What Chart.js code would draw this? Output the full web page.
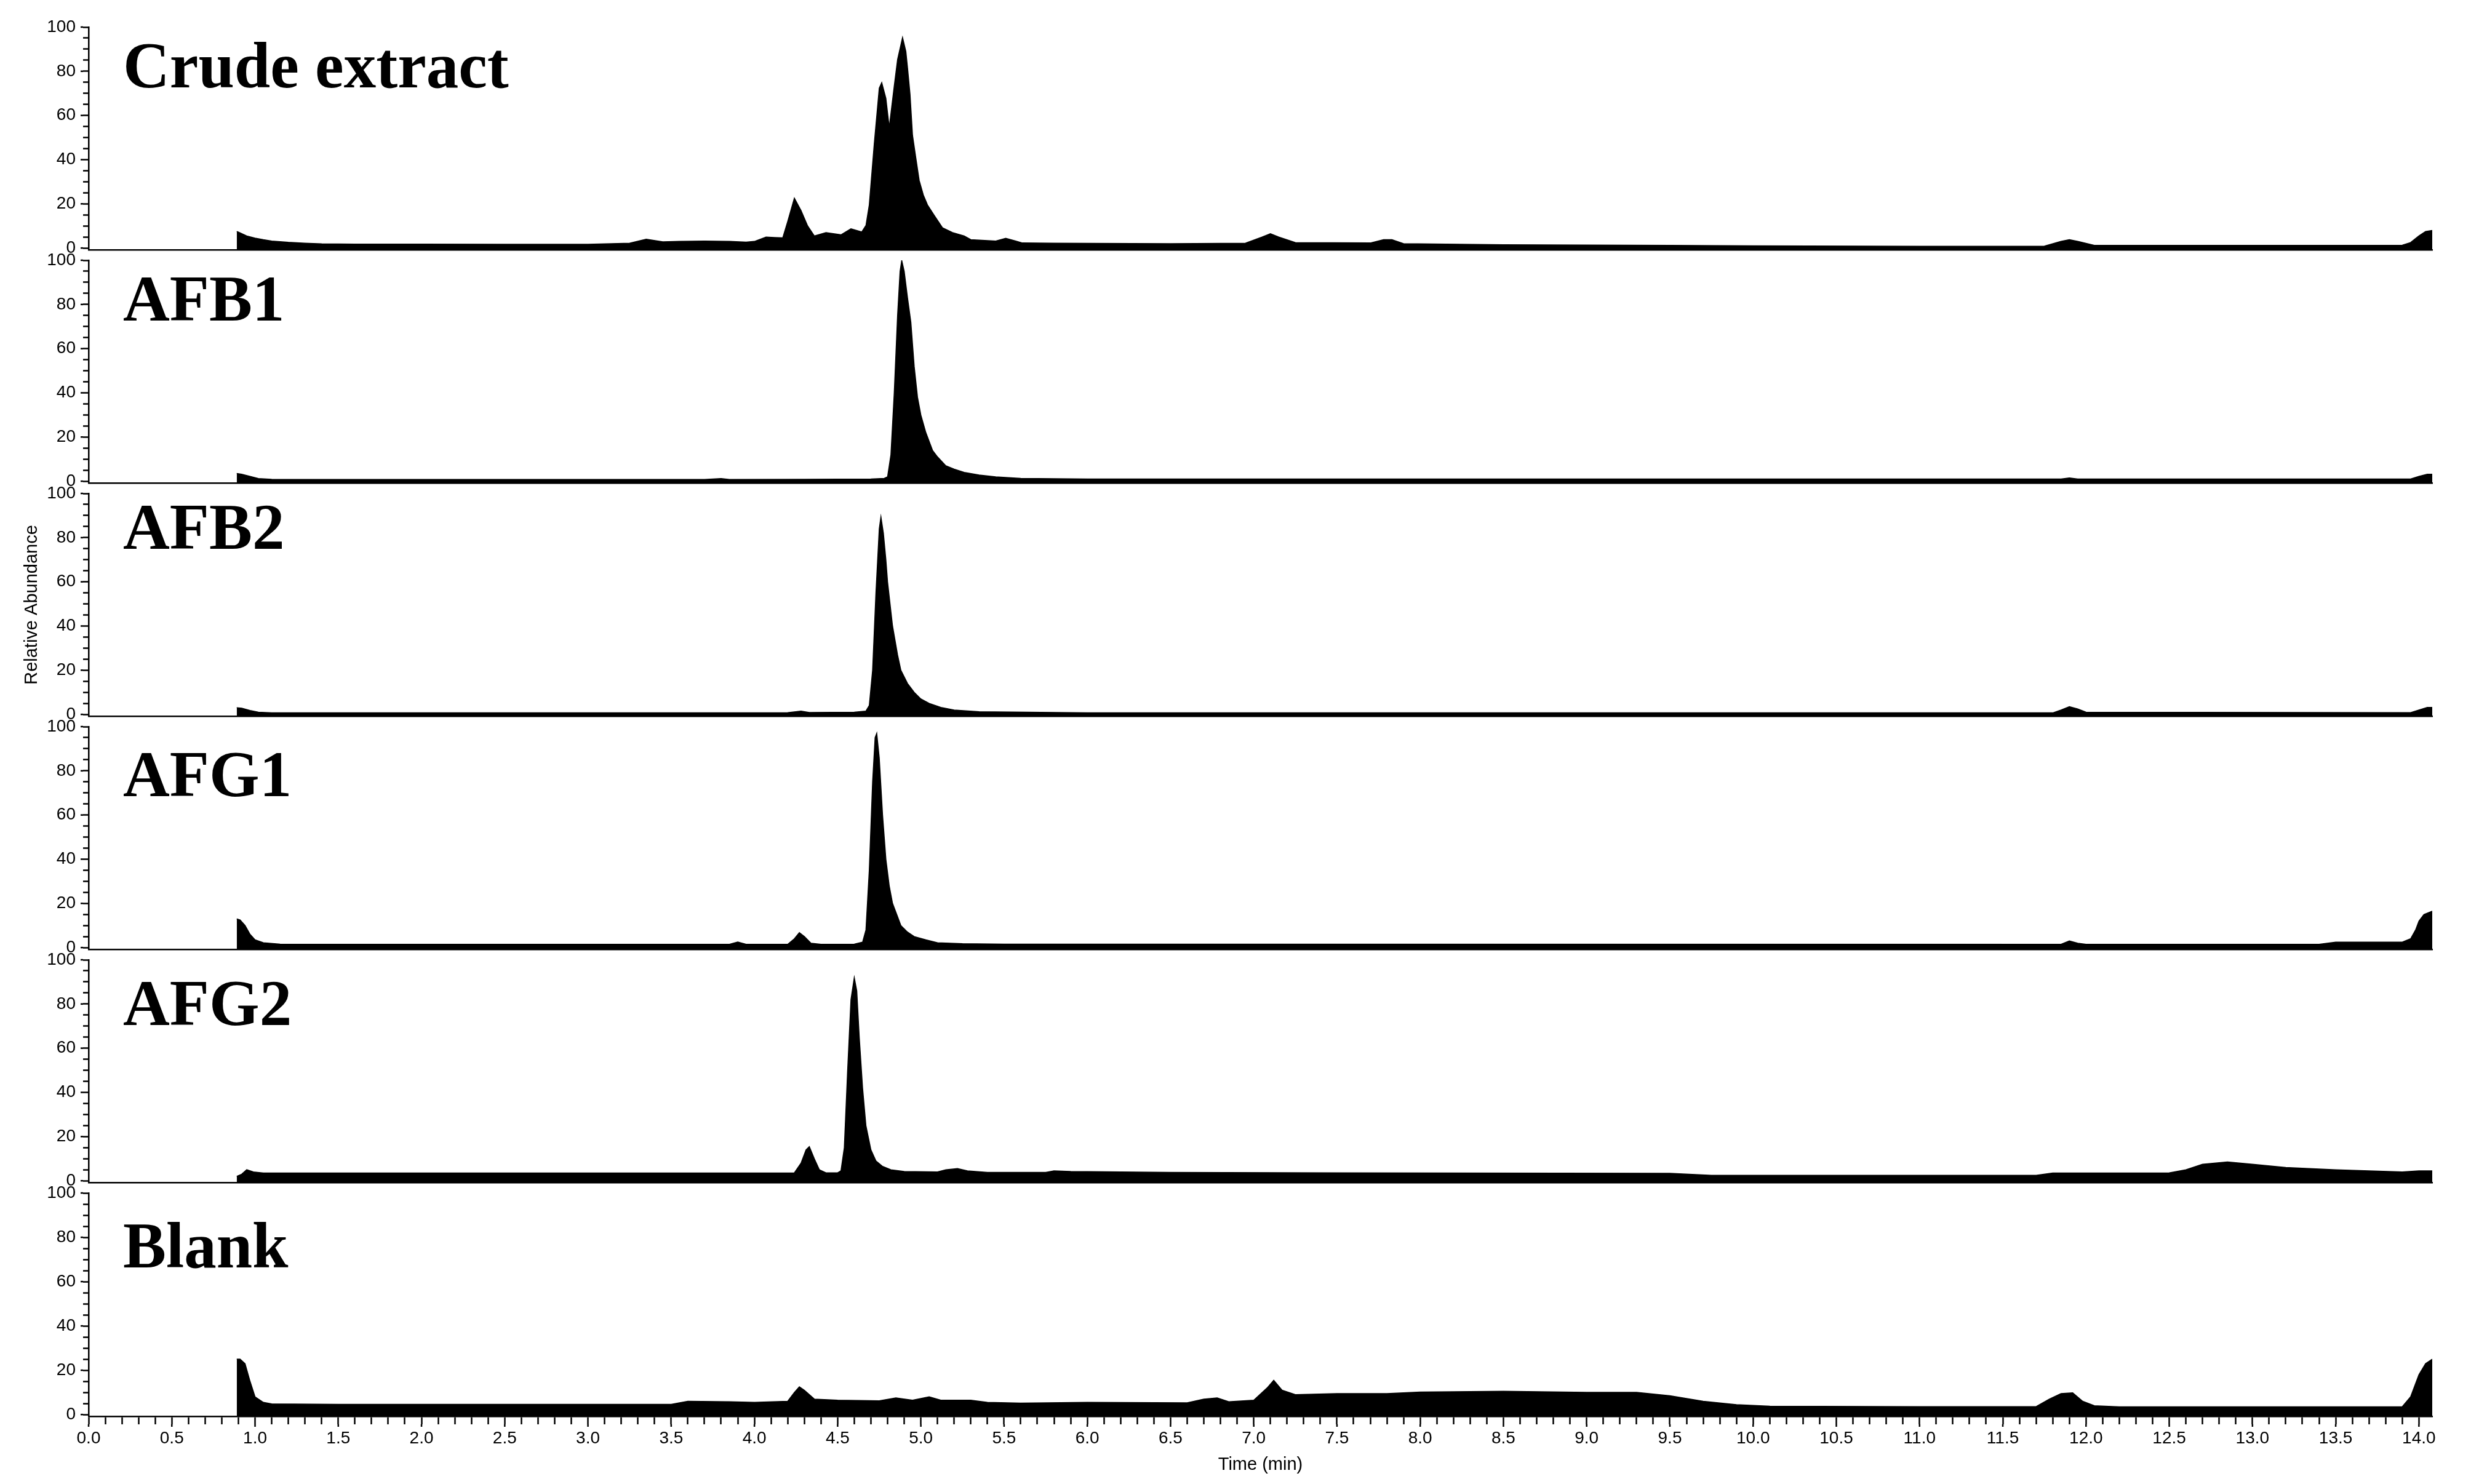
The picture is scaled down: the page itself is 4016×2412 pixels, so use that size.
<!DOCTYPE html>
<html>
<head>
<meta charset="utf-8">
<title>Chromatograms</title>
<script src="https://cdn.jsdelivr.net/npm/chart.js@4.4.1/dist/chart.umd.min.js"></script>
<style>
    body { margin: 0; background: #fff; }
    #wrap { position: relative; width: 4016px; height: 2412px; overflow: hidden; }
    #wrap canvas { position: absolute; left: 0; }
</style>
</head>
<body>
<div id="wrap"></div>
<script>
// panel names, top to bottom
const panelNames = ['Crude extract', 'AFB1', 'AFB2', 'AFG1', 'AFG2', 'Blank'];

// [time (min), relative abundance]
const crudeExtract = [
    [0.89, 7.5], [0.9, 7.2], [0.95, 5.5], [1.0, 4.5], [1.05, 3.8], [1.1, 3.2], [1.2, 2.6], [1.3, 2.2],
    [1.4, 1.9], [1.6, 1.8], [2.0, 1.8], [2.5, 1.7], [3.0, 1.7], [3.25, 2.2], [3.35, 4.0], [3.45, 2.8],
    [3.55, 3.0], [3.7, 3.2], [3.85, 3.0], [3.95, 2.7], [4.0, 3.0], [4.07, 5.0], [4.12, 4.8], [4.17, 4.6],
    [4.2, 12], [4.24, 22.6], [4.28, 17], [4.32, 10], [4.36, 5.5], [4.43, 7.0], [4.52, 6.0], [4.58, 8.7],
    [4.645, 7.3], [4.67, 10.2], [4.69, 19.5], [4.72, 47.3], [4.75, 72.4], [4.765, 74.9], [4.79, 67.7],
    [4.81, 54.6], [4.84, 73.3], [4.86, 85.3], [4.89, 95.3], [4.91, 89], [4.92, 81.6], [4.935, 69.6],
    [4.95, 51], [4.97, 40.7], [4.99, 30.6], [5.015, 24], [5.04, 19.5], [5.08, 14.8], [5.13, 9.2],
    [5.19, 7.0], [5.26, 5.5], [5.3, 3.8], [5.45, 3.2], [5.51, 4.4], [5.57, 3.2], [5.61, 2.3], [5.8, 2.2],
    [6.5, 2.0], [6.95, 2.2], [7.05, 5.0], [7.1, 6.5], [7.15, 5.0], [7.25, 2.5], [7.7, 2.3], [7.78, 3.8],
    [7.83, 3.8], [7.9, 2.0], [8.5, 1.5], [9.5, 1.2], [10.0, 1.0], [11.0, 0.8], [11.75, 0.9], [11.85, 3.0],
    [11.9, 3.8], [11.95, 3.0], [12.05, 1.2], [13.0, 1.2], [13.9, 1.3], [13.95, 2.5], [14.0, 5.5],
    [14.04, 7.5], [14.08, 8.0]
];
const afb1 = [
    [0.89, 3.5], [0.92, 3.2], [0.97, 2.2], [1.02, 1.2], [1.1, 0.9], [2.0, 0.8], [3.7, 0.8], [3.8, 1.2],
    [3.85, 0.8], [4.3, 0.9], [4.7, 1.0], [4.78, 1.3], [4.8, 2], [4.82, 12], [4.84, 40], [4.86, 75],
    [4.875, 95], [4.885, 100], [4.9, 95], [4.92, 83], [4.94, 72], [4.96, 52], [4.98, 38], [5.0, 30],
    [5.03, 22], [5.07, 14], [5.1, 11], [5.15, 7], [5.2, 5.5], [5.26, 4], [5.35, 2.8], [5.45, 2],
    [5.6, 1.3], [6.0, 1.0], [11.85, 1.0], [11.9, 1.5], [11.95, 1.0], [13.95, 1.0], [14.0, 2.2],
    [14.05, 3.2], [14.08, 3.2]
];
const afb2 = [
    [0.89, 3], [0.92, 2.8], [0.97, 1.8], [1.02, 1.0], [1.1, 0.7], [3.5, 0.7], [4.2, 0.8], [4.28, 1.5],
    [4.33, 0.9], [4.6, 1.0], [4.67, 1.5], [4.69, 4], [4.71, 20], [4.73, 55], [4.75, 84], [4.76, 89.5],
    [4.775, 82], [4.79, 70], [4.8, 60], [4.83, 40], [4.86, 27], [4.88, 20], [4.92, 14], [4.96, 10],
    [5.0, 7], [5.05, 5], [5.12, 3.2], [5.2, 2], [5.35, 1.2], [6.0, 0.7], [11.8, 0.7], [11.85, 2],
    [11.9, 3.5], [11.95, 2.5], [12.0, 1], [13.95, 0.8], [14.0, 2], [14.05, 3.2], [14.08, 3.2]
];
const afg1 = [
    [0.89, 13], [0.91, 12.5], [0.94, 10], [0.97, 6], [1.0, 3.5], [1.05, 2.2], [1.15, 1.6], [2.0, 1.5],
    [3.85, 1.5], [3.9, 2.5], [3.95, 1.5], [4.2, 1.5], [4.24, 4], [4.27, 6.8], [4.3, 5], [4.34, 2],
    [4.4, 1.5], [4.6, 1.6], [4.65, 2.5], [4.67, 8], [4.69, 35], [4.71, 75], [4.725, 95], [4.735, 97],
    [4.75, 86], [4.77, 60], [4.79, 40], [4.81, 28], [4.83, 20], [4.86, 14], [4.88, 10], [4.92, 7],
    [4.96, 5], [5.03, 3.5], [5.1, 2.2], [5.25, 1.8], [5.5, 1.6], [11.85, 1.5], [11.9, 3], [11.95, 2],
    [12.0, 1.5], [13.4, 1.5], [13.5, 2.5], [13.9, 2.5], [13.95, 4], [13.98, 8], [14.0, 12], [14.03, 15],
    [14.08, 16.5]
];
const afg2 = [
    [0.89, 2], [0.92, 3], [0.95, 5], [0.99, 4], [1.05, 3.5], [2.0, 3.5], [4.0, 3.5], [4.24, 3.6],
    [4.28, 8], [4.31, 14], [4.33, 15.5], [4.36, 10], [4.39, 5], [4.43, 3.6], [4.5, 3.6], [4.52, 4.5],
    [4.54, 15], [4.56, 50], [4.58, 82], [4.6, 92], [4.615, 86], [4.63, 65], [4.65, 42], [4.67, 25],
    [4.7, 14], [4.73, 9], [4.77, 6.5], [4.82, 5], [4.9, 4.2], [5.1, 4], [5.15, 5], [5.22, 5.5],
    [5.28, 4.5], [5.4, 3.8], [5.75, 3.8], [5.8, 4.5], [5.9, 4.2], [6.5, 3.8], [7.5, 3.6], [9.5, 3.4],
    [9.75, 2.5], [11.7, 2.5], [11.8, 3.5], [12.5, 3.6], [12.6, 5], [12.7, 7.5], [12.85, 8.5],
    [13.0, 7.5], [13.2, 6], [13.5, 5], [13.9, 4], [14.0, 4.5], [14.08, 4.5]
];
const blank = [
    [0.89, 25], [0.91, 25], [0.94, 23], [0.97, 15], [1.0, 8], [1.05, 5.5], [1.1, 4.8], [1.5, 4.6],
    [3.5, 4.6], [3.6, 6], [3.85, 5.8], [4.0, 5.5], [4.2, 6], [4.24, 10], [4.27, 12.5], [4.3, 11],
    [4.36, 7], [4.5, 6.5], [4.75, 6.2], [4.85, 7.5], [4.95, 6.5], [5.05, 8], [5.12, 6.5], [5.3, 6.5],
    [5.4, 5.5], [5.6, 5.2], [6.0, 5.5], [6.6, 5.3], [6.7, 7], [6.78, 7.5], [6.85, 5.8], [7.0, 6.5],
    [7.08, 12], [7.12, 15.5], [7.17, 11], [7.25, 9], [7.5, 9.5], [7.8, 9.5], [8.0, 10.2], [8.5, 10.5],
    [9.0, 10], [9.3, 10], [9.5, 8.5], [9.7, 6], [9.9, 4.5], [10.1, 3.8], [11.0, 3.6], [11.7, 3.6],
    [11.78, 7], [11.85, 9.5], [11.92, 9.8], [11.98, 6], [12.05, 4], [12.2, 3.5], [13.9, 3.6],
    [13.95, 8], [14.0, 18], [14.04, 23], [14.08, 25]
];
const traces = [crudeExtract, afb1, afb2, afg1, afg2, blank];

// axis settings
const timeMin = 0, timeMax = 14.08, timeStep = 0.1, timeLabelStep = 0.5;
const abundMin = -0.8, abundMax = 100, abundStep = 5, abundLabelStep = 20;

// layout (px)
const plotLeft = 144, plotRight = 3953, firstTop = 44, pitch = 379, plotH = 362, pad = 32;
const labelDy = [98, 98, 90, 113, 106, 121];

const tickFont = { family: '"Liberation Sans", Arial, sans-serif', size: 28 };
const titleFont = { family: '"Liberation Sans", Arial, sans-serif', size: 29 };

const isMultiple = (v, step) => Math.abs(v / step - Math.round(v / step)) < 1e-6;

// longer marks for the labelled ticks
const majorTicks = {
    id: 'majorTicks',
    afterDraw(chart, args, opts) {
        const ctx = chart.ctx;
        ctx.save();
        ctx.strokeStyle = '#000';
        ctx.lineWidth = 2.5;
        const y = chart.scales.y;
        y.ticks.forEach(t => {
            if (!isMultiple(t.value, abundLabelStep)) return;
            const py = y.getPixelForValue(t.value);
            ctx.beginPath();
            ctx.moveTo(y.right - 13, py);
            ctx.lineTo(y.right - 9, py);
            ctx.stroke();
        });
        if (opts.bottom) {
            const x = chart.scales.x;
            x.ticks.forEach(t => {
                if (!isMultiple(t.value, timeLabelStep)) return;
                const px = x.getPixelForValue(t.value);
                ctx.beginPath();
                ctx.moveTo(px, x.top + 13);
                ctx.lineTo(px, x.top + 17);
                ctx.stroke();
            });
        }
        ctx.restore();
    }
};

// big bold name inside each panel
const panelLabel = {
    id: 'panelLabel',
    afterDraw(chart, args, opts) {
        const ctx = chart.ctx;
        ctx.save();
        ctx.font = 'bold 105px "Liberation Serif", "Times New Roman", serif';
        ctx.fillStyle = '#000';
        ctx.textBaseline = 'alphabetic';
        ctx.fillText(opts.text, 200, chart.chartArea.top + opts.dy);
        ctx.restore();
    }
};

const wrap = document.getElementById('wrap');

function makePanel(i) {
    const last = i === traces.length - 1;
    const areaTop = firstTop + pitch * i;
    const areaH = last ? plotH + 1 : plotH;
    const xAxisH = last ? 2412 - (areaTop + areaH) : 0;
    const canvasTop = areaTop - pad;
    const canvasH = pad + areaH + (last ? xAxisH : pad);

    const canvas = document.createElement('canvas');
    canvas.width = 4016;
    canvas.height = canvasH;
    canvas.style.top = canvasTop + 'px';
    wrap.appendChild(canvas);

    const xScale = {
        type: 'linear',
        min: timeMin,
        max: timeMax,
        afterFit: s => { s.height = xAxisH; },
        border: { display: true, color: '#000', width: 2.5 },
        grid: { display: last, drawOnChartArea: false, drawTicks: last, tickLength: 13, tickWidth: 2.5, tickColor: '#000' },
        ticks: {
            display: last,
            stepSize: timeStep,
            includeBounds: false,
            autoSkip: false,
            maxRotation: 0,
            minRotation: 0,
            padding: 6,
            color: '#000',
            font: tickFont,
            callback: v => isMultiple(v, timeLabelStep) ? v.toFixed(1) : ''
        },
        title: {
            display: last,
            text: 'Time (min)',
            color: '#000',
            font: titleFont,
            padding: { top: 0, bottom: 14 }
        }
    };

    const yScale = {
        min: abundMin,
        max: abundMax,
        afterFit: s => { s.width = plotLeft - 20; },
        border: { display: true, color: '#000', width: 2.5 },
        grid: { drawOnChartArea: false, drawTicks: true, tickLength: 9, tickWidth: 2.5, tickColor: '#000' },
        ticks: {
            stepSize: abundStep,
            includeBounds: false,
            autoSkip: false,
            padding: 12,
            color: '#000',
            font: tickFont,
            callback: v => isMultiple(v, abundLabelStep) ? String(v) : ''
        },
        title: {
            display: i === 2,
            text: 'Relative Abundance',
            color: '#000',
            font: titleFont,
            padding: { top: 15, bottom: 0 }
        }
    };

    return new Chart(canvas, {
        type: 'line',
        data: {
            datasets: [{
                data: traces[i].map(p => ({ x: p[0], y: p[1] })),
                borderColor: '#000',
                backgroundColor: '#000',
                borderWidth: 1.5,
                pointRadius: 0,
                tension: 0,
                fill: 'start'
            }]
        },
        options: {
            responsive: false,
            animation: false,
            devicePixelRatio: 1,
            layout: { padding: { left: 20, right: 4016 - plotRight, top: pad, bottom: last ? 0 : pad } },
            plugins: {
                legend: { display: false },
                tooltip: { enabled: false },
                majorTicks: { bottom: last },
                panelLabel: { text: panelNames[i], dy: labelDy[i] }
            },
            scales: { x: xScale, y: yScale }
        },
        plugins: [majorTicks, panelLabel]
    });
}

traces.forEach((t, i) => makePanel(i));
</script>
</body>
</html>
